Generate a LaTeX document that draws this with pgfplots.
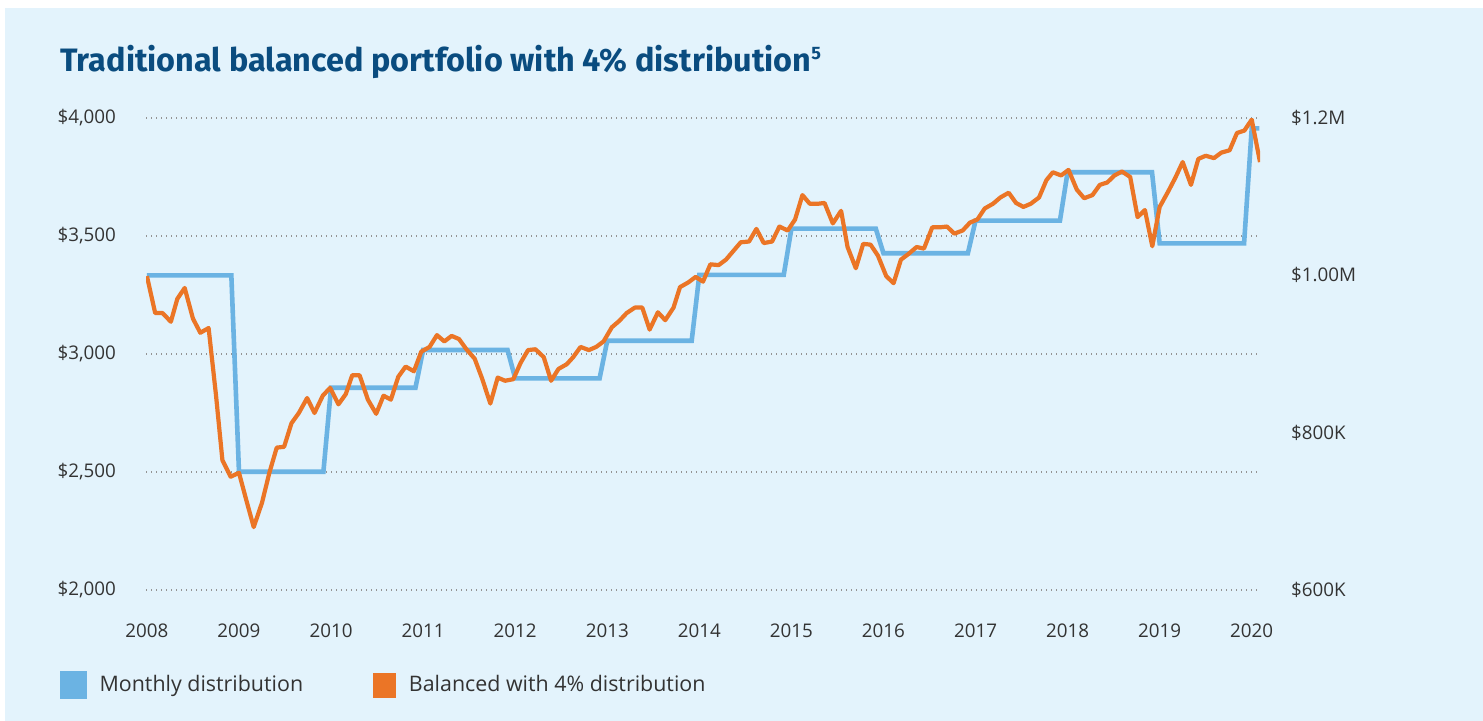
\documentclass[border=0pt]{standalone}
\usepackage{fontspec}
\setmainfont{Open Sans}
\newfontfamily\titlefont{Fira Sans}
\usepackage{pgfplots}
\pgfplotsset{compat=1.18}

\definecolor{bgblue}{HTML}{E3F3FC}
\definecolor{lineblue}{HTML}{6BB3E3}
\definecolor{lineorange}{HTML}{EB7526}
\definecolor{titleblue}{HTML}{0A4C7F}
\definecolor{txt}{HTML}{333333}

\pgfplotsset{
    base/.style={
        scale only axis,
        width=557pt,
        height=236pt,
        at={(73pt,-295pt)},
        anchor=south west,
        xmin=2007.99, xmax=2020.09,
        axis line style={draw=none},
        tick style={draw=none},
        ticklabel style={font=\fontsize{9.4}{11}\selectfont, text=txt},
    }
}

\begin{document}
\begin{tikzpicture}
\useasboundingbox (0pt,0pt) rectangle (741.5pt,-360.5pt);
\fill[white] (0pt,0pt) rectangle (741.5pt,-360.5pt);
\fill[bgblue] (2.5pt,-4pt) rectangle (741.5pt,-360.5pt);
\node[anchor=base west, inner sep=0, text=titleblue,
      font=\titlefont\bfseries\fontsize{16.2}{18}\selectfont] at (30pt,-36pt)
    {Traditional balanced portfolio with 4\% distribution\raisebox{0.7ex}{\fontsize{9}{9}\selectfont 5}};

% left axis: monthly distribution
\begin{axis}[base,
    ymin=2000, ymax=4000,
    ytick={2000,2500,3000,3500,4000},
    yticklabels={{\$2,000},{\$2,500},{\$3,000},{\$3,500},{\$4,000}},
    yticklabel style={xshift=-11.5pt},
    xtick={2008,2009,2010,2011,2012,2013,2014,2015,2016,2017,2018,2019,2020},
    xticklabels={2008,2009,2010,2011,2012,2013,2014,2015,2016,2017,2018,2019,2020},
    xticklabel style={yshift=-13.5pt},
    ymajorgrids,
    grid style={draw=gray!85, line width=0.6pt, dash pattern=on 0.6pt off 1.9pt},
    legend image code/.code={\fill[#1] (0pt,-6pt) rectangle (11pt,6pt);},
    legend style={at={(-0.0772,-0.2013)}, anchor=west, draw=none, fill=none,
        legend columns=2, inner sep=0pt, outer sep=0pt,
        font=\fontsize{10.7}{12}\selectfont, text=txt,
        nodes={inner sep=0pt},
        /tikz/every odd column/.append style={column sep=6.5pt},
        /tikz/every even column/.append style={column sep=35pt}},
    legend cell align=left,
]
\addplot[color=lineblue, line width=2.3pt] coordinates {
(2008.0,3333) (2008.917,3333) (2009.0,2501) (2009.917,2501)
(2010.0,2857) (2010.917,2857) (2011.0,3017) (2011.917,3017)
(2012.0,2897) (2012.917,2897) (2013.0,3056) (2013.917,3056)
(2014.0,3335) (2014.917,3335) (2015.0,3531) (2015.917,3531)
(2016.0,3427) (2016.917,3427) (2017.0,3565) (2017.917,3565)
(2018.0,3770) (2018.917,3770) (2019.0,3469) (2019.917,3469)
(2020.0,3956) (2020.083,3956)
};
\addlegendentry{Monthly distribution}
\addlegendimage{color=lineorange}
\addlegendentry{Balanced with 4\% distribution}
\end{axis}

% right axis: portfolio value ($K)
\begin{axis}[base,
    axis y line*=right,
    axis x line=none,
    ymin=600, ymax=1200,
    ytick={600,800,1000,1200},
    yticklabels={{\$600K},{\$800K},{\$1.00M},{\$1.2M}},
    yticklabel style={anchor=west, xshift=12pt},
]
\addplot[color=lineorange, line width=2.1pt, line join=round] coordinates {
(2008.00,999) (2008.09,952) (2008.17,952) (2008.26,941) (2008.33,970)
(2008.41,984) (2008.50,945) (2008.58,927) (2008.67,933) (2008.75,848)
(2008.82,765) (2008.91,744) (2009.00,749) (2009.08,714) (2009.16,680)
(2009.25,711) (2009.33,749) (2009.41,781) (2009.49,782) (2009.57,812)
(2009.65,825) (2009.74,844) (2009.82,825) (2009.91,847) (2009.99,857)
(2010.08,836) (2010.16,849) (2010.23,873) (2010.31,873) (2010.40,842)
(2010.49,824) (2010.57,847) (2010.65,842) (2010.73,871) (2010.81,884)
(2010.90,878) (2010.98,903) (2011.07,909) (2011.15,924) (2011.23,916)
(2011.31,923) (2011.39,919) (2011.47,906) (2011.56,894) (2011.64,869)
(2011.73,837) (2011.81,870) (2011.89,866) (2011.98,868) (2012.06,889)
(2012.14,905) (2012.22,906) (2012.31,896) (2012.39,866) (2012.47,881)
(2012.56,887) (2012.63,896) (2012.71,909) (2012.80,905) (2012.88,909)
(2012.96,916) (2013.05,934) (2013.13,942) (2013.21,952) (2013.30,959)
(2013.38,959) (2013.46,931) (2013.55,953) (2013.63,943) (2013.72,959)
(2013.79,985) (2013.88,991) (2013.96,998) (2014.04,992) (2014.12,1014)
(2014.21,1013) (2014.29,1020) (2014.37,1031) (2014.45,1042) (2014.54,1043)
(2014.62,1059) (2014.70,1041) (2014.79,1043) (2014.87,1062) (2014.96,1057)
(2015.04,1071) (2015.12,1102) (2015.20,1091) (2015.29,1091) (2015.36,1092)
(2015.45,1066) (2015.54,1082) (2015.61,1036) (2015.70,1009) (2015.78,1040)
(2015.86,1039) (2015.94,1025) (2016.03,999) (2016.11,990) (2016.19,1020)
(2016.27,1027) (2016.36,1036) (2016.44,1034) (2016.53,1061) (2016.61,1061)
(2016.69,1062) (2016.77,1053) (2016.86,1057) (2016.94,1067) (2017.02,1071)
(2017.10,1085) (2017.19,1091) (2017.27,1099) (2017.36,1105) (2017.44,1092)
(2017.52,1087) (2017.60,1091) (2017.69,1099) (2017.77,1121) (2017.84,1131)
(2017.93,1127) (2018.01,1134) (2018.10,1109) (2018.18,1098) (2018.27,1102)
(2018.35,1115) (2018.43,1118) (2018.51,1127) (2018.59,1132) (2018.68,1125)
(2018.76,1074) (2018.84,1083) (2018.92,1037) (2019.00,1087) (2019.09,1106)
(2019.17,1124) (2019.25,1144) (2019.34,1115) (2019.42,1148) (2019.50,1152)
(2019.59,1149) (2019.67,1156) (2019.76,1159) (2019.84,1181) (2019.92,1184)
(2020.00,1198) (2020.09,1144)
};
\end{axis}
\end{tikzpicture}
\end{document}
